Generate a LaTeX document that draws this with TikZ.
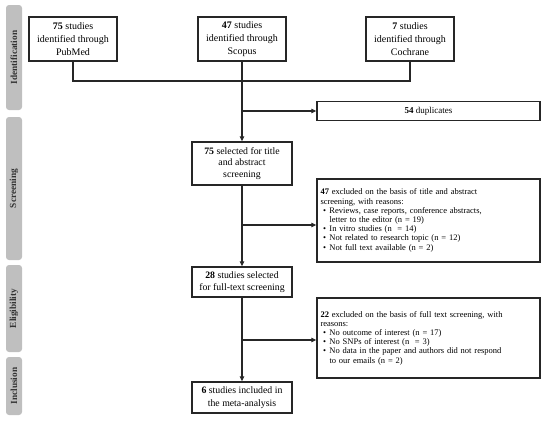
\documentclass[tikz,border=0pt]{standalone}
\usepackage{fontspec}
\setmainfont{Liberation Serif}
\usetikzlibrary{arrows.meta}
\newcommand{\bul}{\makebox[9pt][l]{\hspace{2.5pt}\textbullet}}
\newcommand{\cont}{\hspace*{9pt}}
\tikzset{
  box/.style={draw=black!85, line width=1.3pt, fill=white, inner sep=0pt, align=center,
    font=\fontsize{10}{12.7}\selectfont},
  topbox/.style={box, minimum width=88pt, minimum height=44pt},
  midbox/.style={box, minimum width=100pt, font=\fontsize{9.8}{12}\selectfont},
  exbox/.style={box, minimum width=223pt, text width=216pt, align=left, inner xsep=3.5pt,
    font=\fontsize{8.5}{9.2}\selectfont},
  side/.style={rotate=90, fill=black!25, rounded corners=3pt, minimum height=16pt, inner sep=0pt,
    text=black!80, font=\fontsize{9.3}{10}\selectfont\bfseries},
  conn/.style={draw=black!85, line width=1.1pt},
  arr/.style={conn, -{Triangle[length=5pt,width=4.5pt]}}
}
\begin{document}
\begin{tikzpicture}[x=1pt,y=-1pt]
\useasboundingbox (0,0) rectangle (550,423);
% side labels
\node[side, minimum width=105pt] (sid) at (14,57.5) {Identification};
\node[side, minimum width=143pt] (sscr) at (14,188.5) {Screening};
\node[side, minimum width=87pt] (sel2) at (14,308.5) {Eligibility};
\node[side, minimum width=58pt] (sinc) at (14,386) {Inclusion};
% boxes
\node[topbox] (pub) at (73,39) {\textbf{75} studies\\identified through\\PubMed};
\node[topbox] (sco) at (242,39) {\textbf{47} studies\\identified through\\Scopus};
\node[topbox] (coc) at (410,39) {\textbf{7} studies\\identified through\\Cochrane};
\node[box, minimum width=223pt, minimum height=19pt, font=\fontsize{9}{11}\selectfont] (dup) at (428.5,111) {\textbf{54} duplicates};
\node[midbox, minimum height=43pt, font=\fontsize{9.8}{11.2}\selectfont] (sel) at (242,163.5) {\textbf{75} selected for title\\and abstract\\screening};
\node[exbox, minimum height=83pt] (ex1) at (428.5,220.5) {\textbf{47} excluded on the basis of title and abstract\\screening, with reasons:\\
\bul Reviews, case reports, conference abstracts,\\
\cont letter to the editor (n = 19)\\
\bul In vitro studies (n\ \ = 14)\\
\bul Not related to research topic (n = 12)\\
\bul Not full text available (n = 2)};
\node[midbox, minimum height=30pt] (ful) at (242,282) {\textbf{28} studies selected\\for full-text screening};
\node[exbox, minimum height=80pt] (ex2) at (428.5,338) {\textbf{22} excluded on the basis of full text screening, with\\reasons:\\
\bul No outcome of interest (n = 17)\\
\bul No SNPs of interest (n\ \ = 3)\\
\bul No data in the paper and authors did not respond\\
\cont to our emails (n = 2)};
\node[midbox, minimum height=31pt, font=\fontsize{9.8}{12.5}\selectfont] (inc) at (242,397.5) {\textbf{6} studies included in\\the meta-analysis};
% junctions
\coordinate (m) at (242,81);
\coordinate (b1) at (242,111);
\coordinate (b2) at (242,225);
\coordinate (b3) at (242,340);
% connectors
\draw[conn] (pub.south) -- (pub.south |- m) -- (coc.south |- m) -- (coc.south);
\draw[arr] (sco.south) -- (sel.north);
\draw[arr] (b1) -- (dup.west);
\draw[arr] (sel.south) -- (ful.north);
\draw[arr] (b2) -- (b2 -| ex1.west);
\draw[arr] (ful.south) -- (inc.north);
\draw[arr] (b3) -- (b3 -| ex2.west);
\end{tikzpicture}
\end{document}
